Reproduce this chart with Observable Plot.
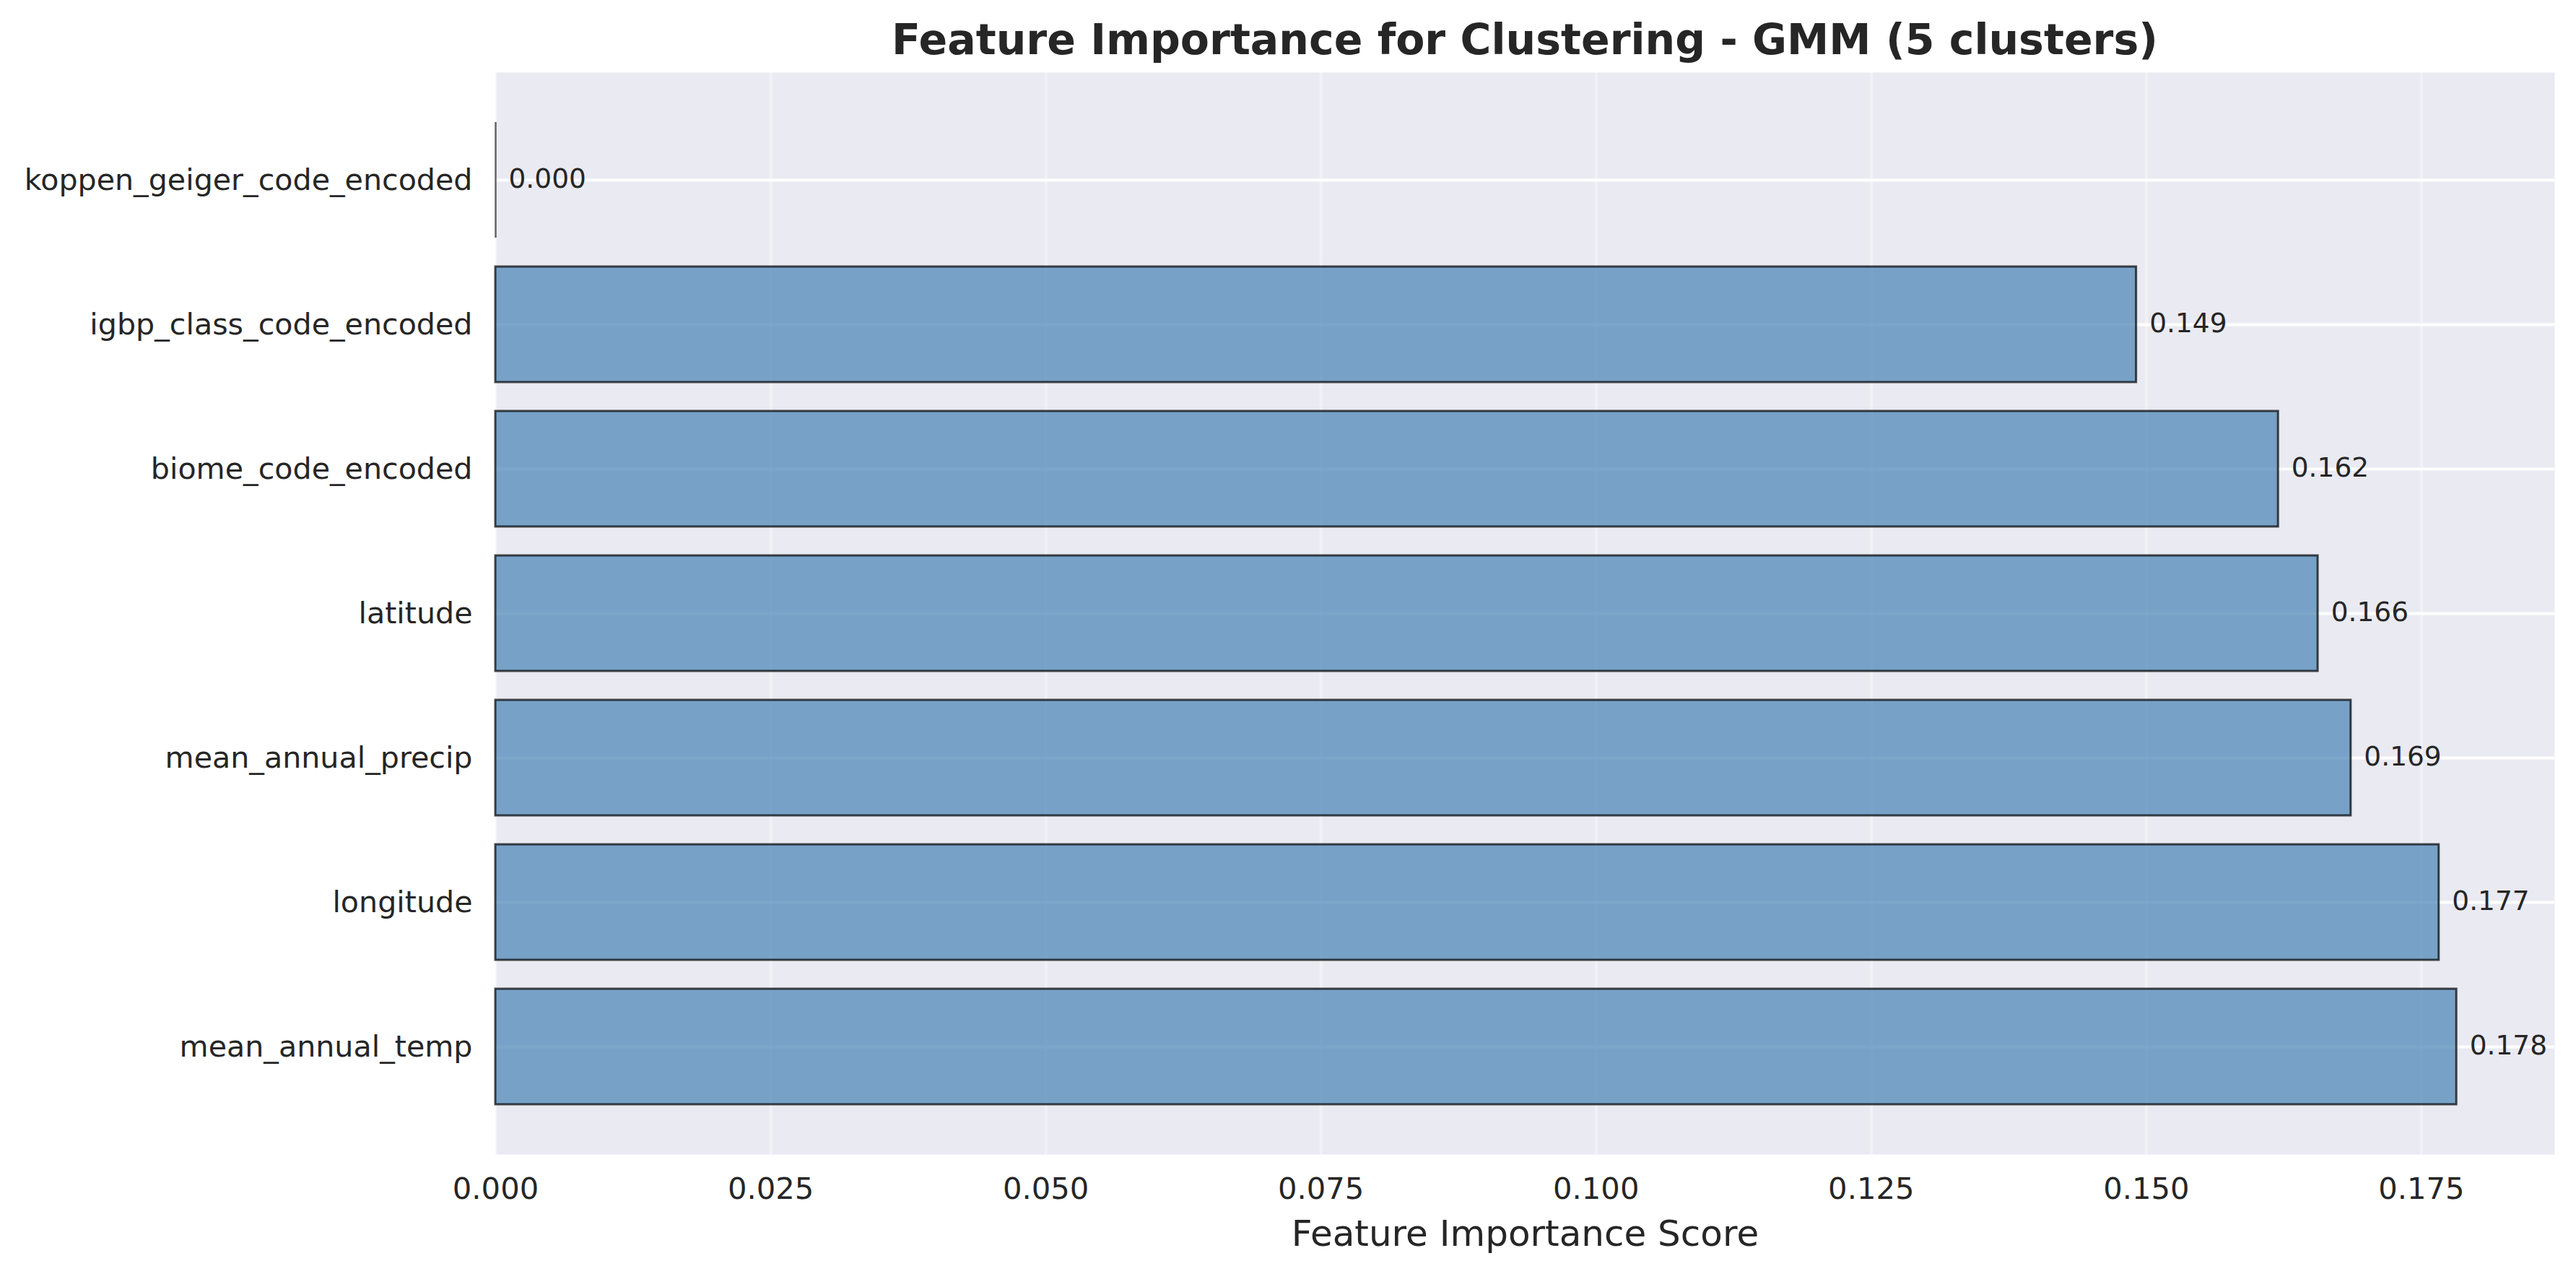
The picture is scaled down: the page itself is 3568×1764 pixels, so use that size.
<!DOCTYPE html>
<html>
<head>
<meta charset="utf-8">
<script src="https://cdn.jsdelivr.net/npm/d3@7"></script>
<script src="https://cdn.jsdelivr.net/npm/@observablehq/plot@0.6"></script>
<style>
  html, body { margin: 0; padding: 0; background: white; }
  body { width: 3568px; height: 1764px; overflow: hidden; font-family: "DejaVu Sans", sans-serif; color: #262626; }
  #title { box-sizing: border-box; height: 100px; margin-left: 686px; width: 2852px; text-align: center;
           font-size: 58.5px; font-weight: bold; line-height: 58px; padding-top: 26px; white-space: nowrap; }
  #chart svg { display: block; }
</style>
</head>
<body>
<div id="title">Feature Importance for Clustering - GMM (5 clusters)</div>
<div id="chart"></div>
<script>
// Features in order of importance (highest first, drawn bottom-up)
const features = [
  "mean_annual_temp",
  "longitude",
  "mean_annual_precip",
  "latitude",
  "biome_code_encoded",
  "igbp_class_code_encoded",
  "koppen_geiger_code_encoded"
];
const importance = [0.1782, 0.1766, 0.1686, 0.1656, 0.1620, 0.1491, 0.0000];
const xTicks = [0, 0.025, 0.05, 0.075, 0.1, 0.125, 0.15, 0.175];
const titleText = "Feature Importance for Clustering - GMM (5 clusters)";
const xLabel = "Feature Importance Score";

const rows = features.map((f, i) => ({feature: f, value: importance[i]}));
const fmt = d3.format(".3f");
const xMax = d3.max(importance) * 1.05;

const chart = Plot.plot({
  width: 3568,
  height: 1664,
  marginTop: 0,
  marginBottom: 166,
  marginLeft: 686,
  marginRight: 30,
  style: {fontFamily: "DejaVu Sans, sans-serif", color: "#262626", background: "white", overflow: "visible"},
  x: {domain: [0, xMax]},
  y: {type: "band", domain: features.slice().reverse(), paddingInner: 0.2, paddingOuter: 0.34},
  marks: [
    Plot.frame({fill: "#EAEAF2", stroke: null}),
    Plot.gridX({ticks: xTicks, stroke: "white", strokeOpacity: 0.35, strokeWidth: 4}),
    Plot.gridY({stroke: "white", strokeOpacity: 1, strokeWidth: 4}),
    Plot.barX(rows, {x: "value", y: "feature", fill: "steelblue", fillOpacity: 0.7,
                     stroke: "black", strokeOpacity: 0.7, strokeWidth: 3}),
    Plot.tickX(rows, {filter: d => d.value === 0, x: "value", y: "feature",
                      stroke: "black", strokeOpacity: 0.6, strokeWidth: 2.5}),
    Plot.text(rows, {x: "value", y: "feature", text: d => fmt(d.value), dx: 18, dy: -2,
                     textAnchor: "start", fontSize: 37.5, fill: "#262626"}),
    Plot.axisX({ticks: xTicks, tickFormat: fmt, tickSize: 0, tickPadding: 32, fontSize: 41.7, label: null}),
    Plot.axisY({tickSize: 0, tickPadding: 32, fontSize: 41.2, label: null}),
    Plot.text([xLabel], {frameAnchor: "bottom", lineAnchor: "bottom", dy: 126, fontSize: 50, fill: "#262626"})
  ]
});
document.getElementById("chart").appendChild(chart);
</script>
</body>
</html>
